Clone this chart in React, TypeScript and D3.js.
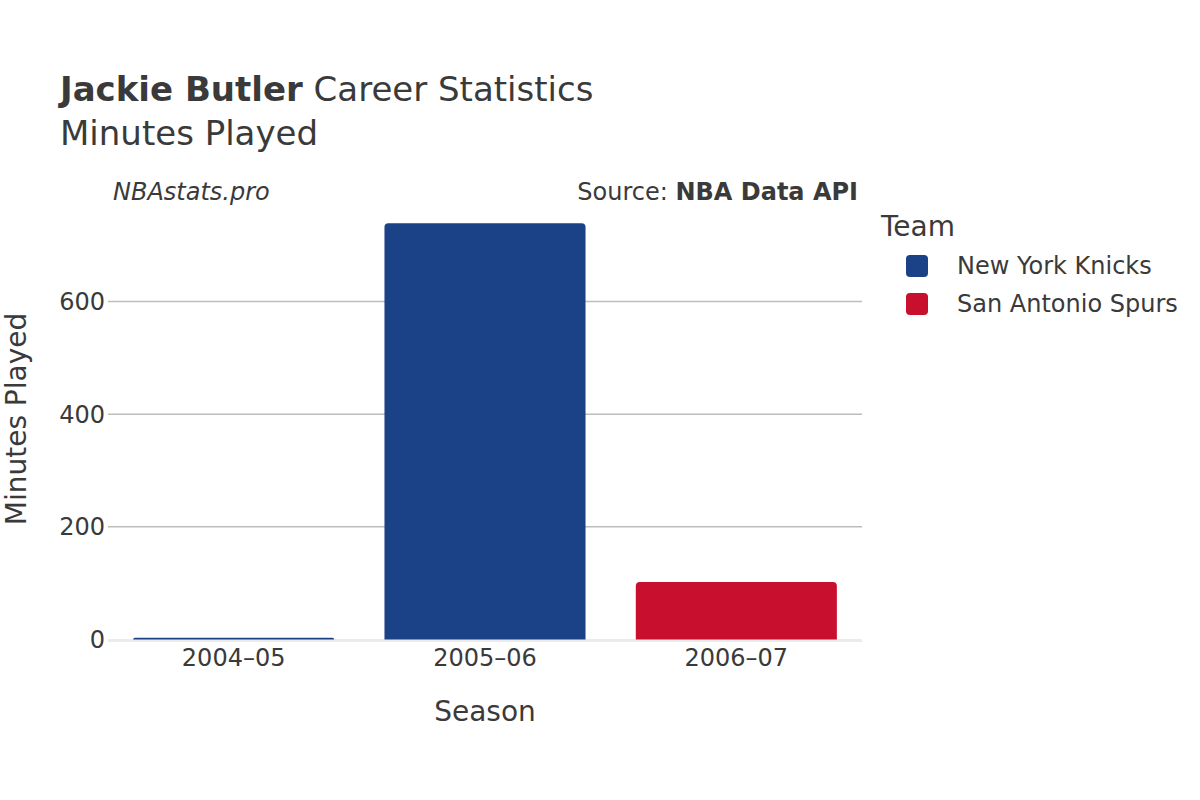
import React from "react";
import * as d3 from "d3";

const seasons = ["2004–05", "2005–06", "2006–07"];
const teams = ["New York Knicks", "San Antonio Spurs"];
const teamColors = ["#1b4286", "#c8102e"];
const barTeam = ["New York Knicks", "New York Knicks", "San Antonio Spurs"];
const minutes = [3, 739, 102];
const yTicks = [0, 200, 400, 600];

const W = 1200, H = 800;
const left = 108, right = 862, top = 220, bottom = 639.5;
const FONT = "DejaVu Sans, sans-serif";
const TXT = "#3a3a3a";

export default function App() {
  const x = d3.scaleBand<string>().domain(seasons).range([left, right]).paddingInner(0.2).paddingOuter(0.1);
  const y = d3.scaleLinear().domain([0, 0 + (bottom - top) / 0.5633]).range([bottom, top]);
  const color = d3.scaleOrdinal<string, string>().domain(teams).range(teamColors);
  const r = 4;
  const barPath = (x0: number, w: number, yTop: number, yBot: number) => {
    const h = yBot - yTop;
    const rr = Math.min(r, h, w / 2);
    return `M${x0},${yBot}V${yTop + rr}Q${x0},${yTop} ${x0 + rr},${yTop}H${x0 + w - rr}Q${x0 + w},${yTop} ${x0 + w},${yTop + rr}V${yBot}Z`;
  };
  return (
    <svg width={W} height={H} style={{ display: "block", position: "absolute", left: 0, top: 0 }} fontFamily={FONT}>
      <rect width={W} height={H} fill="#fff" />
      <text x={60} y={101} fontSize={34} fill={TXT}>
        <tspan fontWeight="bold">Jackie Butler</tspan> Career Statistics
      </text>
      <text x={60} y={145} fontSize={34} fill={TXT}>Minutes Played</text>
      <text x={113} y={200} fontSize={24} fontStyle="italic" fill={TXT}>NBAstats.pro</text>
      <text x={858} y={200} fontSize={24} textAnchor="end" fill={TXT}>
        Source: <tspan fontWeight="bold">NBA Data API</tspan>
      </text>
      {yTicks.filter(t => t > 0).map(t => (
        <line key={t} x1={left} x2={right} y1={y(t)} y2={y(t)} stroke="#bdbdbd" strokeWidth={1.5} />
      ))}
      <line x1={left} x2={right} y1={y(0) + 1} y2={y(0) + 1} stroke="#ebebeb" strokeWidth={3} />
      {seasons.map((s, i) => (
        <path key={s} d={barPath(x(s)!, x.bandwidth(), y(minutes[i]), y(0))} fill={color(barTeam[i])} />
      ))}
      {yTicks.map(t => (
        <text key={t} x={105} y={y(t)} dy="0.35em" textAnchor="end" fontSize={24} fill={TXT}>{t}</text>
      ))}
      {seasons.map(s => (
        <text key={s} x={x(s)! + x.bandwidth() / 2} y={666} textAnchor="middle" fontSize={24} fill={TXT}>{s}</text>
      ))}
      <text x={(left + right) / 2} y={721} textAnchor="middle" fontSize={28} fill={TXT}>Season</text>
      <text transform={`translate(26,419) rotate(-90)`} textAnchor="middle" fontSize={28} fill={TXT}>Minutes Played</text>
      <text x={881} y={236} fontSize={28} fill={TXT}>Team</text>
      {teams.map((t, i) => (
        <g key={t} transform={`translate(0,${i * 38})`}>
          <rect x={906} y={255} width={22} height={22} rx={4} fill={color(t)} />
          <text x={957} y={266} dy="0.35em" fontSize={24} fill={TXT}>{t}</text>
        </g>
      ))}
    </svg>
  );
}
